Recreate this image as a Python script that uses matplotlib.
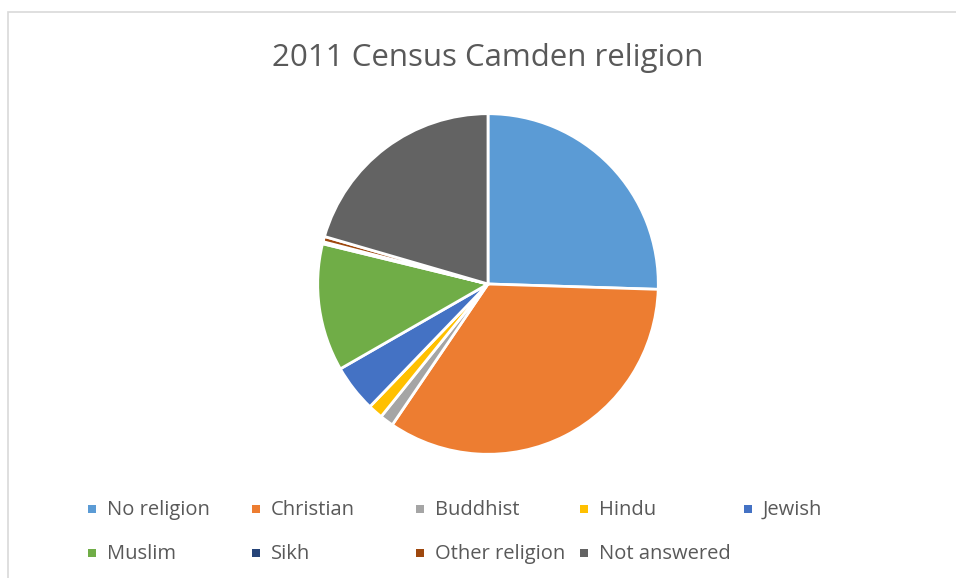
import matplotlib.pyplot as plt
from matplotlib.patches import Rectangle

# religion shares, Camden, 2011 census (%)
categorias = ["No religion", "Christian", "Buddhist", "Hindu", "Jewish",
              "Muslim", "Sikh", "Other religion", "Not answered"]
porcentajes = [25.5, 34.0, 1.3, 1.4, 4.5, 12.1, 0.2, 0.5, 20.5]
colores = ["#5B9BD5", "#ED7D31", "#A5A5A5", "#FFC000", "#4472C4",
           "#70AD47", "#264478", "#9E480E", "#636363"]

plt.rcParams['font.family'] = ['Open Sans', 'DejaVu Sans']

W, H = 956, 578
fig = plt.figure(figsize=(W / 100, H / 100), dpi=100)

# chart frame
fig.patches.append(Rectangle((7.5 / W, -0.1), 1.1, 1 - 12.5 / H + 0.1,
                             transform=fig.transFigure, fill=False,
                             edgecolor="#D9D9D9", linewidth=1.2))

fig.text(488 / W, 1 - 58 / H, "2011 Census Camden religion",
         ha="center", va="center", fontsize=22.5, color="#595959")

ax = fig.add_axes([316 / W, 1 - 456 / H, 344 / W, 344 / H])
ax.pie(porcentajes, colors=colores, startangle=90, counterclock=False,
       radius=1, wedgeprops=dict(edgecolor="white", linewidth=2))
ax.set_xlim(-1.01, 1.01)
ax.set_ylim(-1.01, 1.01)
ax.axis("off")

# legend, 5 columns x 2 rows
for i, (nombre, color) in enumerate(zip(categorias, colores)):
    fila, col = divmod(i, 5)
    x = 88 + col * 164
    y = 509 + fila * 44
    fig.patches.append(Rectangle((x / W, 1 - (y + 4) / H), 8 / W, 8 / H,
                                 transform=fig.transFigure,
                                 facecolor=color, edgecolor="none"))
    fig.text((x + 19) / W, 1 - (y + 1) / H, nombre, ha="left", va="center",
             fontsize=14.5, color="#595959")

fig.savefig("out.png", dpi=100)
